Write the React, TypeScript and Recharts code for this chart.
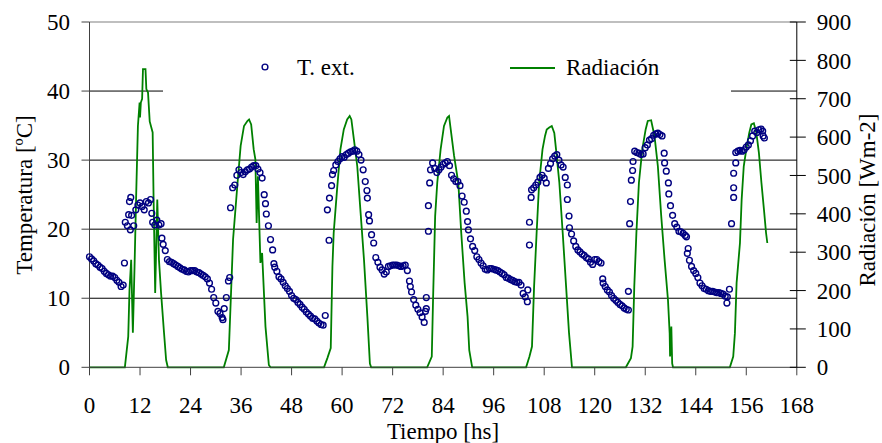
import React from 'react';
import { ComposedChart, Scatter, Line, XAxis, YAxis, ReferenceLine, Legend, Label } from 'recharts';

const FONT = "'Liberation Serif', 'Times New Roman', serif";

// Tick labels
const xTicks = [0, 12, 24, 36, 48, 60, 72, 84, 96, 108, 120, 132, 144, 156, 168];
const tempTicks = [0, 10, 20, 30, 40, 50];
const radTicks = [0, 100, 200, 300, 400, 500, 600, 700, 800, 900];

// Outdoor temperature (°C) on the hour, hour 0..160
const tempHourly = [
  16.0, 15.4, 14.8, 14.3, 13.6, 13.2, 13.0, 12.3, 11.9, 20.5,
  22.0, 22.8, 23.8, 22.8, 23.8, 21.0, 21.3, 20.8, 16.9, 15.3,
  15.0, 14.6, 14.2, 13.9, 14.0, 14.0, 13.7, 13.3, 12.8, 11.3,
  9.3, 7.8, 8.5, 12.5, 26.0, 27.8, 28.2, 28.3, 28.7, 29.2,
  28.7, 27.4, 22.2, 18.5, 14.5, 13.1, 12.3, 11.4, 10.4, 9.8,
  9.1, 8.4, 7.7, 7.1, 6.7, 6.2, 7.5, 24.5, 28.5, 29.8,
  30.5, 30.8, 31.2, 31.5, 30.8, 28.6, 24.5, 19.2, 15.9, 14.5,
  13.5, 14.6, 14.8, 14.8, 14.6, 14.8, 12.5, 9.8, 8.4, 7.3,
  8.5, 28.6, 28.8, 28.6, 29.4, 29.8, 27.8, 26.9, 26.3, 23.9,
  19.9, 17.5, 16.0, 15.1, 14.2, 14.3, 14.2, 14.0, 13.6, 13.0,
  12.7, 12.4, 12.3, 10.7, 9.5, 25.7, 26.4, 27.5, 27.4, 28.8,
  30.2, 30.8, 29.3, 27.5, 20.2, 18.3, 17.0, 16.4, 15.9, 15.2,
  15.6, 15.3, 12.2, 11.2, 10.4, 9.7, 9.1, 8.6, 8.3, 28.5,
  31.1, 30.8, 31.8, 32.9, 33.6, 33.9, 33.5, 28.4, 23.4, 20.8,
  19.7, 19.4, 16.5, 14.6, 13.6, 12.2, 11.4, 11.1, 11.0, 10.8,
  10.7, 10.3, 11.3, 26.0, 31.3, 31.3, 31.9, 32.8, 34.2, 34.4,
  33.5,
];

// Outdoor temperature (°C) at the half hours, 0.5..159.5
const tempHalfHour = [
  15.7, 15.0, 14.5, 13.9, 13.4, 13.2, 12.6, 11.7, 21.0, 24.0,
  20.5, 23.5, 23.3, 24.0, 24.3, 20.6, 20.6, 17.8, 15.6, 15.2,
  14.8, 14.4, 14.1, 13.8, 14.0, 13.8, 13.5, 13.1, 12.2, 10.1,
  8.1, 7.2, 10.1, 23.1, 26.4, 28.6, 27.9, 28.6, 29.0, 29.2,
  28.2, 25.0, 20.5, 17.0, 13.9, 12.8, 11.8, 11.0, 10.0, 9.4,
  8.7, 8.0, 7.4, 7.0, 6.4, 6.1, 22.8, 26.3, 29.3, 30.2,
  30.4, 31.0, 31.3, 31.3, 30.0, 26.9, 21.2, 18.0, 15.2, 14.1,
  13.8, 14.7, 14.8, 14.7, 14.7, 14.0, 10.9, 9.0, 7.9, 6.5,
  19.7, 29.6, 28.2, 29.0, 29.6, 29.2, 27.3, 26.9, 24.8, 22.6,
  18.6, 16.9, 15.6, 14.7, 14.1, 14.3, 14.1, 13.8, 13.4, 12.9,
  12.6, 12.3, 11.9, 10.2, 17.7, 26.0, 26.8, 27.8, 26.7, 29.5,
  30.6, 30.0, 29.0, 26.4, 19.3, 17.5, 16.7, 16.2, 15.7, 14.9,
  15.6, 15.1, 11.7, 10.9, 10.0, 9.4, 8.9, 8.4, 24.0, 31.3,
  31.0, 30.9, 32.2, 33.1, 33.8, 33.7, 31.0, 26.7, 22.0, 20.3,
  19.6, 19.1, 15.5, 14.0, 13.0, 11.8, 11.3, 11.0, 10.9, 10.8,
  10.6, 10.2, 20.8, 29.6, 31.4, 31.5, 32.2, 33.5, 34.0, 34.5,
];

// Additional scattered readings around sunrise / sunset
const tempExtraHours = [
  8.3, 9.3, 9.7, 9.8, 14.8, 17.2,
  31.7, 33.3, 41.8, 43.8,
  56.9, 57.7, 65.9, 66.3, 76.2,
  79.8, 80.0, 80.5, 80.8, 89.8,
  104.1, 104.5, 104.9, 113.5, 113.9, 121.9,
  128.0, 128.3, 128.7, 129.1, 136.6, 137.6, 141.8, 142.2,
  151.4, 153.0, 153.0, 153.5, 159.9, 160.3,
];
const tempExtraValues = [
  15.1, 22.1, 19.9, 24.6, 22.3, 18.7,
  6.9, 13.0, 23.7, 15.0,
  18.4, 27.9, 25.6, 22.1, 11.7,
  8.1, 10.1, 23.4, 26.7, 21.1,
  11.2, 21.0, 24.6, 24.3, 21.9, 12.8,
  11.0, 20.8, 27.1, 29.8, 29.6, 25.1, 18.9, 17.2,
  9.3, 24.6, 28.1, 31.1, 34.2, 33.2,
];

// Solar radiation (W/m2)
const radHours = [
  0, 8.4, 9.2, 9.5, 9.9, 10.3, 10.7, 11.1, 11.5, 11.9, 12.0, 12.2, 12.5, 12.7, 13.3, 13.5, 13.9, 14.3, 15.0, 15.2, 15.6, 16.1, 16.5, 17.0, 17.7, 18.2, 18.6,
  31.9, 33.1, 34.1, 35.1, 35.9, 36.7, 37.5, 37.9, 38.4, 39.0, 39.4, 39.7, 40.0, 40.6, 41.0, 41.8, 42.6, 43.0,
  55.7, 56.5, 57.3, 57.7, 58.0, 58.8, 59.6, 60.4, 61.2, 61.8, 62.2, 62.8, 63.6, 64.4, 65.2, 66.0, 66.6, 66.9,
  80.2, 81.3, 81.6, 82.1, 82.6, 83.4, 84.2, 85.0, 85.4, 85.8, 86.6, 87.6, 88.3, 89.1, 89.8, 90.2, 90.9,
  103.7, 104.5, 105.1, 105.6, 106.2, 106.8, 107.6, 108.2, 108.6, 109.2, 109.8, 110.4, 110.9, 111.6, 112.4, 113.2, 113.9, 114.6,
  127.4, 128.6, 129.0, 129.4, 129.9, 130.5, 131.3, 132.1, 132.6, 133.4, 134.2, 135.0, 135.8, 136.6, 137.4, 137.8, 137.9, 138.2, 138.4, 138.6,
  152.1, 152.9, 153.3, 153.7, 154.5, 154.9, 155.4, 156.0, 156.7, 157.2, 157.8, 158.4, 159.0, 159.6, 160.2, 160.7, 161.0,
];
const radValues = [
  0, 0, 80, 202, 280, 90, 263, 455, 629, 690, 651, 690, 700, 777, 777, 725, 716, 641, 612, 455, 194, 437, 280, 194, 90, 19, 0,
  0, 45, 333, 472, 577, 629, 642, 646, 633, 568, 542, 376, 498, 272, 298, 106, 6, 0,
  0, 24, 50, 263, 350, 463, 568, 620, 646, 655, 646, 594, 524, 402, 280, 132, 10, 0,
  0, 28, 176, 394, 481, 568, 629, 651, 655, 620, 551, 481, 350, 220, 132, 45, 0,
  0, 28, 54, 211, 350, 481, 568, 603, 620, 625, 629, 611, 559, 481, 350, 211, 89, 0,
  0, 24, 54, 211, 350, 481, 568, 620, 642, 644, 603, 524, 394, 280, 176, 89, 28, 106, 10, 0,
  0, 28, 89, 220, 324, 437, 524, 568, 611, 633, 636, 611, 559, 481, 411, 350, 324,
];

const tempData = [
  ...tempHourly.map((t, i) => ({ h: i, t })),
  ...tempHalfHour.map((t, i) => ({ h: i + 0.5, t })),
  ...tempExtraHours.map((h, i) => ({ h, t: tempExtraValues[i] })),
].sort((a, b) => a.h - b.h);

const radData = radHours.map((h, i) => ({ h, r: radValues[i] }));

const NAVY = '#000080';
const GREEN = '#008000';

const Ring = (props: any) => (
  <circle cx={props.cx} cy={props.cy} r={2.9} fill="none" stroke={NAVY} strokeWidth={1.4} />
);

const RightTick = (props: any) => {
  const { x, y, payload } = props;
  const ax = x - 20;
  return (
    <g>
      <line x1={ax - 7} x2={ax} y1={y} y2={y} stroke="#000" strokeWidth={1} />
      <text x={x} y={y} dy="0.355em" textAnchor="start" fontSize={23} fontFamily={FONT} fill="#000">
        {payload.value}
      </text>
    </g>
  );
};

const LegendBox = () => (
  <svg width={568} height={46} style={{ display: 'block' }}>
    <circle cx={102} cy={21} r={2.9} fill="none" stroke={NAVY} strokeWidth={1.4} />
    <text x={134} y={29} fontSize={23} fontFamily={FONT} fill="#000">T. ext.</text>
    <line x1={347} x2={392} y1={22} y2={22} stroke={GREEN} strokeWidth={2} />
    <text x={403} y={29} fontSize={23} fontFamily={FONT} fill="#000">Radiación</text>
  </svg>
);

export default function App() {
  const tickStyle = { fontSize: 23, fill: '#000', fontFamily: FONT };
  return (
    <div style={{ position: 'absolute', left: 0, top: 0, width: 882, height: 443, background: '#fff' }}>
      <ComposedChart width={882} height={443} margin={{ top: 22, right: 0, bottom: 0, left: 0 }}>
        <XAxis
          dataKey="h"
          type="number"
          domain={[0, 168]}
          ticks={xTicks}
          height={75.7}
          tickSize={8}
          tickMargin={21}
          stroke="#404040"
          tick={tickStyle}
          interval={0}
        >
          <Label
            content={() => (
              <text x={443} y={439} textAnchor="middle" fontSize={23} fontFamily={FONT} fill="#000">
                Tiempo [hs]
              </text>
            )}
          />
        </XAxis>
        <YAxis
          yAxisId="t"
          type="number"
          domain={[0, 50]}
          ticks={tempTicks}
          width={89.5}
          tickSize={8}
          tickMargin={11.5}
          stroke="#404040"
          tick={tickStyle}
          interval={0}
        >
          <Label
            content={() => (
              <text
                x={32}
                y={195}
                transform="rotate(-90 32 195)"
                textAnchor="middle"
                fontSize={23}
                fontFamily={FONT}
                fill="#000"
              >
                Temperatura [ºC]
              </text>
            )}
          />
        </YAxis>
        <YAxis
          yAxisId="r"
          orientation="right"
          type="number"
          domain={[0, 900]}
          ticks={radTicks}
          width={85.2}
          tickSize={9}
          tickMargin={11}
          stroke="#000"
          tick={<RightTick />}
          interval={0}
        >
          <Label
            content={() => (
              <text
                x={875}
                y={200}
                transform="rotate(-90 875 200)"
                textAnchor="middle"
                fontSize={23}
                fontFamily={FONT}
                fill="#000"
              >
                Radiación [Wm-2]
              </text>
            )}
          />
        </YAxis>
        <ReferenceLine yAxisId="t" y={10} stroke="#000" strokeWidth={1} />
        <ReferenceLine yAxisId="t" y={20} stroke="#000" strokeWidth={1} />
        <ReferenceLine yAxisId="t" y={30} stroke="#000" strokeWidth={1} />
        <ReferenceLine yAxisId="t" y={40} stroke="#000" strokeWidth={1} />
        <ReferenceLine yAxisId="t" y={50} stroke="#808080" strokeWidth={1.2} />
        <Scatter
          yAxisId="t"
          data={tempData}
          dataKey="t"
          name="T. ext."
          shape={Ring}
          isAnimationActive={false}
        />
        <Line
          yAxisId="r"
          data={radData}
          dataKey="r"
          name="Radiación"
          type="linear"
          stroke={GREEN}
          strokeWidth={1.8}
          dot={false}
          activeDot={false}
          isAnimationActive={false}
        />
        <Legend
          verticalAlign="middle"
          align="center"
          layout="horizontal"
          wrapperStyle={{ left: 163, top: 46, width: 568, height: 46, background: '#fff', margin: 0, padding: 0 }}
          content={() => <LegendBox />}
        />
      </ComposedChart>
    </div>
  );
}
